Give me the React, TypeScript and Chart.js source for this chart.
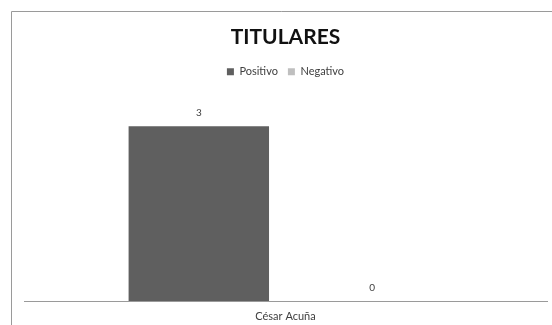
import React, { useEffect, useRef } from "react";
import { Chart, registerables } from "chart.js";

Chart.register(...registerables);

const categories = ["César Acuña"];
const seriesNames = ["Positivo", "Negativo"];
const positivo = [3];
const negativo = [0];
const seriesColors = ["#5f5f5f", "#bfbfbf"];

const FONT = "Lato, 'Open Sans', sans-serif";

// Thin grey frame along the top and left edges of the chart
const framePlugin = {
  id: "frame",
  beforeDraw(chart: any) {
    const { ctx, width, height } = chart;
    ctx.save();
    ctx.fillStyle = "#ffffff";
    ctx.fillRect(0, 0, width, height);
    ctx.strokeStyle = "#9a9a9a";
    ctx.lineWidth = 1;
    ctx.beginPath();
    ctx.moveTo(11.5, height);
    ctx.lineTo(11.5, 11.5);
    ctx.lineTo(width, 11.5);
    ctx.stroke();
    ctx.restore();
  },
};

// Value labels above each bar
const valueLabelPlugin = {
  id: "valueLabels",
  afterDatasetsDraw(chart: any) {
    const { ctx } = chart;
    ctx.save();
    ctx.font = `10px ${FONT}`;
    ctx.fillStyle = "#404040";
    ctx.textAlign = "center";
    ctx.textBaseline = "middle";
    chart.data.datasets.forEach((ds: any, i: number) => {
      const meta = chart.getDatasetMeta(i);
      meta.data.forEach((el: any, j: number) => {
        ctx.fillText(String(ds.data[j]), el.x, el.y - 13);
      });
    });
    ctx.restore();
  },
};

export default function App() {
  const ref = useRef<HTMLCanvasElement>(null);

  useEffect(() => {
    if (!ref.current) return;
    const chart = new Chart(ref.current, {
      type: "bar",
      data: {
        labels: categories,
        datasets: [
          {
            label: seriesNames[0],
            data: positivo,
            backgroundColor: seriesColors[0],
            barPercentage: 0.81,
            categoryPercentage: 0.663,
          },
          {
            label: seriesNames[1],
            data: negativo,
            backgroundColor: seriesColors[1],
            barPercentage: 0.81,
            categoryPercentage: 0.663,
          },
        ],
      },
      options: {
        animation: false,
        responsive: false,
        maintainAspectRatio: false,
        layout: { padding: { left: 24, right: 5, top: 25, bottom: 2 } },
        plugins: {
          title: {
            display: true,
            text: "TITULARES",
            color: "#111111",
            font: { family: FONT, size: 21, weight: "bold" },
            padding: { top: 0, bottom: 6 },
          },
          legend: {
            display: true,
            position: "top",
            labels: {
              boxWidth: 7,
              boxHeight: 7,
              color: "#404040",
              font: { family: FONT, size: 11 },
              padding: 10,
            },
          },
          tooltip: { enabled: false },
        },
        scales: {
          x: {
            grid: { display: false, drawTicks: false },
            border: { display: true, color: "#9a9a9a", width: 1 },
            ticks: {
              color: "#404040",
              font: { family: FONT, size: 11 },
              padding: 9,
            },
            afterFit(scale: any) {
              scale.height = 22;
            },
          },
          y: {
            display: false,
            min: 0,
            max: 3.67,
          },
        },
      },
      plugins: [framePlugin, valueLabelPlugin],
    });
    return () => chart.destroy();
  }, []);

  return (
    <div style={{ position: "fixed", left: 0, top: 0, width: 552, height: 325, background: "#fff" }}>
      <canvas ref={ref} width={552} height={325} style={{ width: 552, height: 325 }} />
    </div>
  );
}
